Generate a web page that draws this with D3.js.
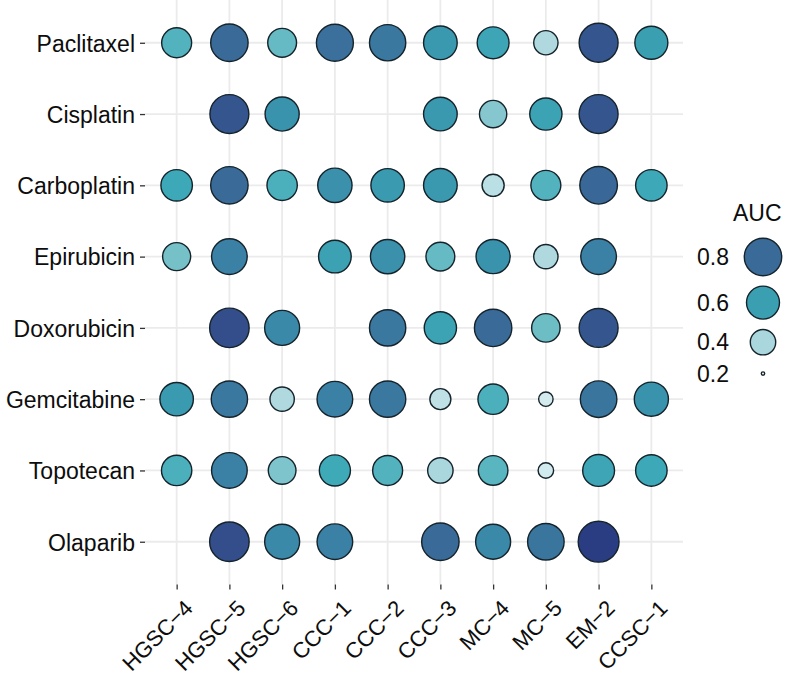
<!DOCTYPE html>
<html lang="en">
  <meta charset="utf-8" />
  <head>
    <title>AUC dot plot</title>
    <script src="https://cdn.jsdelivr.net/npm/d3@7"></script>
    <style>
      body { margin: 0; background: #fff; }
      text { font-family: "Liberation Sans", Arial, sans-serif; fill: #0d0d0d; }
    </style>
  </head>
  <body>
  <script>
    // DATA
    var drugs = ["Paclitaxel", "Cisplatin", "Carboplatin", "Epirubicin",
                 "Doxorubicin", "Gemcitabine", "Topotecan", "Olaparib"];
    var cellLines = ["HGSC-4", "HGSC-5", "HGSC-6", "CCC-1", "CCC-2",
                     "CCC-3", "MC-4", "MC-5", "EM-2", "CCSC-1"];
    // one row per drug, one column per cell line (null = not tested)
    var auc = [
      [0.52, 0.80, 0.49, 0.78, 0.75, 0.63, 0.57, 0.39, 0.88, 0.60],
      [null, 0.88, 0.65, null, null, 0.63, 0.45, 0.58, 0.88, null],
      [0.56, 0.80, 0.53, 0.66, 0.62, 0.63, 0.37, 0.52, 0.81, 0.56],
      [0.47, 0.72, null, 0.59, 0.66, 0.49, 0.65, 0.39, 0.72, null],
      [null, 0.91, 0.69, null, 0.75, 0.58, 0.80, 0.48, 0.88, null],
      [0.62, 0.75, 0.39, 0.72, 0.75, 0.36, 0.53, 0.30, 0.76, 0.65],
      [0.53, 0.72, 0.46, 0.55, 0.52, 0.40, 0.51, 0.31, 0.57, 0.56],
      [null, 0.91, 0.69, 0.72, null, 0.80, 0.69, 0.76, 0.98, null]
    ];
    var legendBreaks = [0.8, 0.6, 0.4, 0.2];

    // CONFIG
    var width = 788, height = 681;
    var panel = {left: 145, right: 683, top: 0, bottom: 584.5};
    var strokeW = 1.4;
    var fontSize = "23px";

    var svg = d3.select("body").append("svg")
        .attr("width", width)
        .attr("height", height);

    var x = d3.scalePoint().domain(cellLines)
        .range([panel.left, panel.right]).padding(0.6);
    var y = d3.scalePoint().domain(drugs)
        .range([panel.top, panel.bottom]).padding(0.6);

    // outer radius (incl. stroke) for a given AUC
    var size = d3.scaleLinear()
        .domain([0.2, 0.4, 0.6, 0.8, 1.0])
        .range([2.4, 13.4, 17.2, 19.4, 21.3]);
    var colour = d3.scaleLinear()
        .domain([0.2, 0.35, 0.42, 0.48, 0.55, 0.62, 0.7, 0.8, 0.9, 1.0])
        .range(["#f4fafb", "#c4e4e8", "#a0d1d9", "#6dbdc5", "#3eaab8",
                "#3a9ab0", "#3b86a8", "#3a6a98", "#34508c", "#27377f"]);

    // flatten
    var points = [];
    auc.forEach(function(row, i) {
      row.forEach(function(v, j) {
        if (v !== null) points.push({drug: drugs[i], line: cellLines[j], auc: v});
      });
    });

    // grid
    svg.append("g").selectAll("line.gx")
      .data(cellLines).enter().append("line")
        .attr("x1", (d) => x(d)).attr("x2", (d) => x(d))
        .attr("y1", panel.top).attr("y2", panel.bottom)
        .attr("stroke", "#ebebeb").attr("stroke-width", 1.8);
    svg.append("g").selectAll("line.gy")
      .data(drugs).enter().append("line")
        .attr("y1", (d) => y(d)).attr("y2", (d) => y(d))
        .attr("x1", panel.left).attr("x2", panel.right)
        .attr("stroke", "#ebebeb").attr("stroke-width", 1.8);

    // y axis
    var yAxis = svg.append("g")
        .attr("transform", `translate(${panel.left},0)`)
        .call(d3.axisLeft(y).tickSize(5).tickPadding(5));
    yAxis.select(".domain").remove();
    yAxis.selectAll(".tick line").attr("stroke", "#333").attr("stroke-width", 1.3);
    yAxis.selectAll(".tick text")
        .style("font-size", fontSize)
        .attr("dy", "0.36em")
        .attr("fill", "#0d0d0d");

    // x axis
    var xAxis = svg.append("g")
        .attr("transform", `translate(0,${panel.bottom})`)
        .call(d3.axisBottom(x).tickSize(5).tickPadding(5));
    xAxis.select(".domain").remove();
    xAxis.selectAll(".tick line").attr("stroke", "#333").attr("stroke-width", 1.3);
    xAxis.selectAll(".tick text")
        .text((d) => d.replace("-", "\u2212"))
        .style("font-size", "22px")
        .attr("text-anchor", "end")
        .attr("fill", "#0d0d0d")
        .attr("y", 0)
        .attr("dy", 0)
        .attr("transform", "translate(17,25) rotate(-45)");

    // dots
    svg.append("g").selectAll("circle")
      .data(points).enter().append("circle")
        .attr("cx", (d) => x(d.line))
        .attr("cy", (d) => y(d.drug))
        .attr("r", (d) => size(d.auc) - strokeW / 2)
        .attr("fill", (d) => colour(d.auc))
        .attr("stroke", "#15232b")
        .attr("stroke-width", strokeW);

    // legend
    var legend = svg.append("g");
    legend.append("text")
        .attr("x", 733).attr("y", 221)
        .style("font-size", fontSize)
        .text("AUC");

    var keyH = (v) => Math.max(2 * size(v) + 9, 27);
    var ly = 257, ys = [];
    legendBreaks.forEach(function(v, i) {
      if (i > 0) ly += (keyH(legendBreaks[i - 1]) + keyH(v)) / 2;
      ys.push(ly);
    });

    var keys = legend.selectAll("g.key")
      .data(legendBreaks).enter().append("g")
        .attr("transform", (d, i) => `translate(0,${ys[i]})`);
    keys.append("circle")
        .attr("cx", 763)
        .attr("r", (d) => size(d) - strokeW / 2)
        .attr("fill", (d) => colour(d))
        .attr("stroke", "#15232b")
        .attr("stroke-width", strokeW);
    keys.append("text")
        .attr("x", 697)
        .attr("dy", "0.36em")
        .style("font-size", fontSize)
        .text((d) => d.toFixed(1));
  </script>
  </body>
</html>
